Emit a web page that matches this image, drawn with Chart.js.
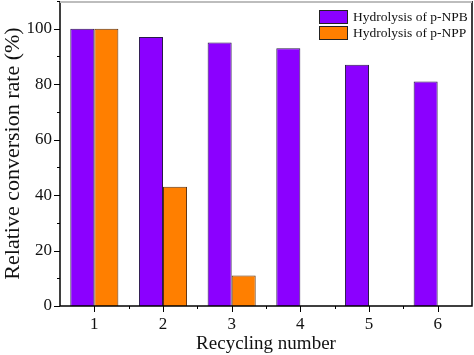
<!DOCTYPE html>
<html><head><meta charset="utf-8">
<script src="https://cdn.jsdelivr.net/npm/chart.js@4.4.1/dist/chart.umd.min.js"></script>
<style>html,body{margin:0;padding:0;background:#fff}#wrap{width:474px;height:355px}</style>
</head><body><div id="wrap"><canvas id="c" width="474" height="355"></canvas></div>
<script>
const categories = ['1','2','3','4','5','6'];
const npbValues = [100, 97, 95, 93, 87, 81];
const nppValues = [100, 43, 11, 0, 0, 0];
const seriesLabels = ['Hydrolysis of p-NPB', 'Hydrolysis of p-NPP'];
const yTickValues = [0, 20, 40, 60, 80, 100];

const FONT = '"Liberation Serif", "Times New Roman", serif';
const PURPLE = '#8B00FF';
const ORANGE = '#FF7F00';

const decor = {
  id: 'decor',
  afterDraw(chart) {
    const ctx = chart.ctx, a = chart.chartArea;
    const y = chart.scales.y, x = chart.scales.x;
    ctx.save();
    ctx.strokeStyle = '#000'; ctx.lineWidth = 1.5;
    ctx.beginPath();
    ctx.moveTo(a.left, a.top); ctx.lineTo(a.left, a.bottom); ctx.lineTo(a.right, a.bottom); ctx.lineTo(a.right, a.top);
    ctx.stroke();
    ctx.strokeStyle = '#bdbdbd'; ctx.lineWidth = 2;
    ctx.beginPath(); ctx.moveTo(a.left, a.top + 1); ctx.lineTo(a.right, a.top + 1); ctx.stroke();
    ctx.strokeStyle = '#000'; ctx.lineWidth = 1;
    for (let v = 0; v <= 110; v += 10) {
      const py = Math.round(y.getPixelForValue(v)) + 0.5;
      const len = (v % 20 === 0) ? 6 : 3;
      ctx.beginPath(); ctx.moveTo(a.left - len, py); ctx.lineTo(a.left, py); ctx.stroke();
    }
    for (let i = 0; i < categories.length; i++) {
      const px = Math.round(x.getPixelForValue(i)) + 0.5;
      ctx.beginPath(); ctx.moveTo(px, a.bottom); ctx.lineTo(px, a.bottom + 6); ctx.stroke();
      if (i > 0) {
        const mx = Math.round((x.getPixelForValue(i) + x.getPixelForValue(i - 1)) / 2) + 0.5;
        ctx.beginPath(); ctx.moveTo(mx, a.bottom); ctx.lineTo(mx, a.bottom + 3); ctx.stroke();
      }
    }
    const ds = chart.data.datasets;
    ctx.font = '13.5px ' + FONT;
    ctx.textBaseline = 'middle';
    ds.forEach((d, i) => {
      const bx = 319, by = 10 + i * 16;
      ctx.fillStyle = d.backgroundColor;
      ctx.fillRect(bx, by, 29, 14);
      ctx.strokeStyle = '#222'; ctx.lineWidth = 1;
      ctx.strokeRect(bx + 0.5, by + 0.5, 28, 13);
      ctx.fillStyle = '#111';
      ctx.fillText(d.label, 353, by + 7.5);
    });
    ctx.restore();
  }
};

new Chart(document.getElementById('c'), {
  type: 'bar',
  data: {
    labels: categories,
    datasets: [
      { label: seriesLabels[0], data: npbValues, backgroundColor: PURPLE, borderColor: '#2a1a4a', borderWidth: 1 },
      { label: seriesLabels[1], data: nppValues, backgroundColor: ORANGE, borderColor: '#5a3010', borderWidth: 1 }
    ]
  },
  plugins: [decor],
  options: {
    responsive: false,
    animation: false,
    devicePixelRatio: 1,
    layout: { padding: { top: 1, right: 2, left: 0, bottom: 0 } },
    datasets: { bar: { categoryPercentage: 0.7, barPercentage: 1.0 } },
    plugins: { legend: { display: false }, tooltip: { enabled: false } },
    scales: {
      x: {
        grid: { display: false, drawTicks: false },
        border: { display: false },
        ticks: { color: '#111', font: { family: FONT, size: 17 }, padding: 8 },
        title: { display: true, text: 'Recycling number', color: '#111', font: { family: FONT, size: 19 }, padding: { top: 0, bottom: 0 } },
        afterFit(s) { s.height = 49; s.paddingLeft = 0; s.paddingRight = 0; }
      },
      y: {
        min: 0, max: 110,
        afterBuildTicks(s) { s.ticks = yTickValues.map(v => ({ value: v })); },
        grid: { display: false, drawTicks: false },
        border: { display: false },
        ticks: { color: '#111', font: { family: FONT, size: 17 }, padding: 8 },
        title: { display: true, text: 'Relative conversion rate (%)', color: '#111', font: { family: FONT, size: 22 }, padding: { top: 0, bottom: 2 } },
        afterFit(s) { s.width = 60; s.paddingTop = 0; s.paddingBottom = 0; }
      }
    }
  }
});
</script>
</body></html>
